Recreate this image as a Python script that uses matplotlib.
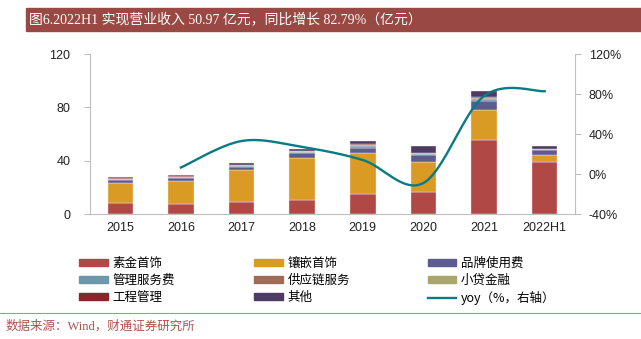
import numpy as np
import matplotlib
matplotlib.use('Agg')
import matplotlib.pyplot as plt
from matplotlib.patches import Rectangle
from matplotlib.lines import Line2D

# ============================
# 数据
# ============================
years = ["2015", "2016", "2017", "2018", "2019", "2020", "2021", "2022H1"]
sujin = [8.5, 7.5, 9.2, 10.7, 15.2, 16.3, 55.3, 38.8]        # 素金首饰
xiangqian = [15.0, 17.5, 23.8, 31.3, 30.8, 22.7, 22.7, 5.5]  # 镶嵌首饰
pinpai = [2.0, 2.0, 2.5, 3.5, 3.5, 5.0, 7.0, 3.5]            # 品牌使用费
guanli = [0.8, 0.8, 0.8, 0.8, 1.2, 1.0, 1.3, 0.7]            # 管理服务费
gongying = [0.2, 0.2, 0.2, 0.4, 0.7, 0.5, 0.6, 0.2]          # 供应链服务
xiaodai = [0.1, 0.1, 0.2, 0.3, 0.6, 0.3, 0.4, 0.2]           # 小贷金融
gongcheng = [0.1, 0.1, 0.1, 0.1, 0.2, 0.2, 0.2, 0.1]         # 工程管理
qita = [0.8, 1.1, 1.7, 1.7, 2.8, 5.2, 4.7, 2.0]              # 其他
yoy = [None, 6.5, 33, 27, 14, -9, 78, 82.79]                  # yoy（%）

series = [sujin, xiangqian, pinpai, guanli, gongying, xiaodai, gongcheng, qita]
names = ["素金首饰", "镶嵌首饰", "品牌使用费", "管理服务费", "供应链服务",
         "小贷金融", "工程管理", "其他"]
colors = ["#B04846", "#D99B24", "#5C5C92", "#6C97AD", "#A06C5A",
          "#A8A66A", "#87272A", "#4E3B63"]
line_color = "#087B85"

cjk = ['Noto Sans CJK SC', 'DejaVu Sans']
latin = ['Liberation Sans', 'Noto Sans CJK SC']
plt.rcParams['font.family'] = latin


def smooth(xs, ys, n=40):
    # Excel 风格的平滑折线（Catmull-Rom）
    px, py = [], []
    m = len(xs)
    for i in range(m - 1):
        x0, y0 = (xs[i - 1], ys[i - 1]) if i > 0 else (xs[i], ys[i])
        x1, y1 = xs[i], ys[i]
        x2, y2 = xs[i + 1], ys[i + 1]
        x3, y3 = (xs[i + 2], ys[i + 2]) if i + 2 < m else (x2, y2)
        c1 = (x1 + (x2 - x0) / 6, y1 + (y2 - y0) / 6)
        c2 = (x2 - (x3 - x1) / 6, y2 - (y3 - y1) / 6)
        t = np.linspace(0, 1, n)
        bx = (1-t)**3*x1 + 3*(1-t)**2*t*c1[0] + 3*(1-t)*t**2*c2[0] + t**3*x2
        by = (1-t)**3*y1 + 3*(1-t)**2*t*c1[1] + 3*(1-t)*t**2*c2[1] + t**3*y2
        px.extend(bx)
        py.extend(by)
    return px, py


fig = plt.figure(figsize=(6.41, 3.39), dpi=100)
ax = fig.add_axes([0.1404, 0.3687, 0.7566, 0.472])
ax2 = ax.twinx()

x = np.arange(len(years))
bottom = np.zeros(len(years))
for vals, c in zip(series, colors):
    ax.bar(x, vals, 0.42, bottom=bottom, color=c, edgecolor='#F2E6E6',
           linewidth=0.3, zorder=2)
    bottom += np.array(vals)

idx = [i for i, v in enumerate(yoy) if v is not None]
sx, sy = smooth([x[i] for i in idx], [yoy[i] for i in idx])
ax2.plot(sx, sy, color=line_color, lw=1.7, zorder=3)

ax.set_xlim(-0.5, 7.5)
ax.set_ylim(0, 120)
ax.set_yticks([0, 40, 80, 120])
ax2.set_ylim(-40, 120)
ax2.set_yticks([-40, 0, 40, 80, 120])
ax2.set_yticklabels([f"{v}%" for v in [-40, 0, 40, 80, 120]])
ax.set_xticks(x)
ax.set_xticklabels(years)

for a in (ax, ax2):
    a.spines['top'].set_visible(False)
    for s in ['left', 'right', 'bottom']:
        a.spines[s].set_color('#BFBFBF')
    a.tick_params(labelsize=9, colors='#222222')
ax.tick_params(axis='y', length=4, color='#BFBFBF', pad=10)
ax2.tick_params(axis='y', length=4, color='#BFBFBF', pad=6)
ax.tick_params(axis='x', length=0, pad=6)
ax.spines['right'].set_visible(False)
ax2.spines['left'].set_visible(False)
ax2.spines['bottom'].set_visible(False)

# 图例：三列，逐列放置
handles = [Rectangle((0, 0), 1, 1, color=c) for c in colors]
handles.append(Line2D([0], [0], color=line_color, lw=1.7))
labels = names + ["yoy（%，右轴）"]
col_x = [0.124, 0.397, 0.667]
for k in range(3):
    hs = [handles[k + 3 * r] for r in range(3)]
    ls = [labels[k + 3 * r] for r in range(3)]
    fig.legend(hs, ls, loc='upper left', bbox_to_anchor=(col_x[k], 0.243),
               frameon=False, prop={'family': cjk, 'size': 9},
               handlelength=2.3, handleheight=0.5, handletextpad=0.35,
               labelspacing=0.32, borderpad=0, borderaxespad=0)

# 标题栏
fig.patches.append(Rectangle((0.041, 0.91), 0.96, 0.067, transform=fig.transFigure,
                             color='#9A4843', zorder=0))
fig.text(0.046, 0.943, "图6.2022H1 实现营业收入 50.97 亿元，同比增长 82.79%（亿元）",
         color='white', fontsize=10, va='center', ha='left',
         family=['Liberation Serif', 'Noto Sans CJK SC'])

# 底部分隔线与数据来源
fig.add_artist(Line2D([0.0, 1.0], [0.077, 0.077], transform=fig.transFigure,
                      color='#C58A86', lw=0.8))
fig.text(0.008, 0.037, "数据来源：Wind，财通证券研究所", color='#B0504A',
         fontsize=9, va='center', ha='left',
         family=['Liberation Serif', 'Noto Sans CJK SC'])

plt.savefig("out.png", dpi=100)
plt.close()
